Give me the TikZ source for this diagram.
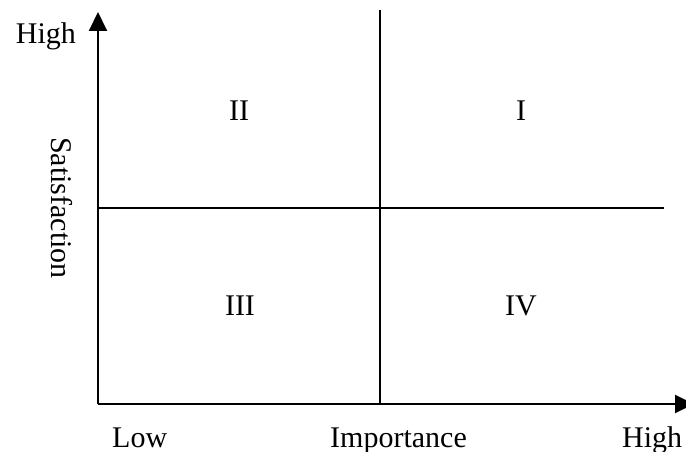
\documentclass[tikz,border=0pt]{standalone}
\usepackage{fontspec}
\setmainfont{Liberation Serif}
\usetikzlibrary{arrows.meta}
\begin{document}
\begin{tikzpicture}[x=1pt,y=-1pt,
  axis/.style={line width=2pt,-{Triangle[length=19pt,width=18pt]}},
  divider/.style={line width=2pt},
  lbl/.style={font=\fontsize{30}{34}\selectfont,inner sep=0pt,anchor=base}]
\useasboundingbox (0,0) rectangle (686,452);
\coordinate (O) at (98,404);
\coordinate (Ytip) at (98,12);
\coordinate (Xtip) at (694,404);
\coordinate (Vtop) at (380,10);
\coordinate (Vbot) at (380,404);
\coordinate (Hl) at (98,208);
\coordinate (Hr) at (664,208);
\draw[divider] (Vtop) -- (Vbot);
\draw[divider] (Hl) -- (Hr);
\draw[axis] (O) -- (Ytip);
\draw[axis] (O) -- (Xtip);
\node[lbl] (hightop) at (46,44) {High};
\node[lbl] (q2) at (239,121) {II};
\node[lbl] (q1) at (521,121) {I};
\node[lbl] (q3) at (240,315) {III};
\node[lbl] (q4) at (521,315) {IV};
\node[lbl,anchor=base west] (low) at (112,447) {Low};
\node[lbl,anchor=base west] (imp) at (330,447) {Importance};
\node[lbl,anchor=base west] (highbot) at (622,447) {High};
\node[font=\fontsize{30}{34}\selectfont,inner sep=0pt,rotate=-90] (sat) at (62,208) {Satisfaction};
\end{tikzpicture}
\end{document}
